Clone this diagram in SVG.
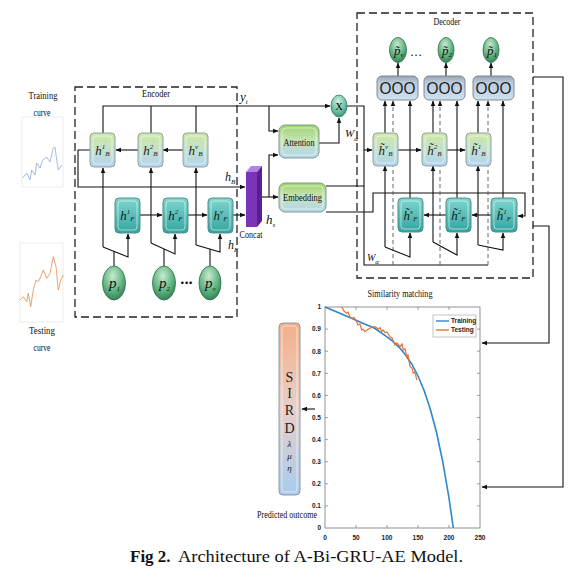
<svg xmlns="http://www.w3.org/2000/svg" width="582" height="581" viewBox="0 0 582 581">
<style>
.ln{stroke:#111;stroke-width:1.1;fill:none}
.dl{stroke:#555;stroke-width:0.9;fill:none;stroke-dasharray:4 3}
.bx{fill:none;stroke:#222;stroke-width:1.3;stroke-dasharray:8 4}
.lbl{font-family:"Liberation Serif",serif;font-size:11px;fill:#111;text-anchor:middle}
.m{font-family:"Liberation Serif",serif;font-style:italic;fill:#111}
.nl{font-family:"Liberation Serif",serif;font-style:italic;font-size:13px;fill:#1a1a1a;text-anchor:middle}
.nB{fill:url(#gB);stroke:#8fa3a8;stroke-width:1}
.nF{fill:url(#gF);stroke:#4f8f8c;stroke-width:1}
.inB{fill:none;stroke:#ffffff;stroke-opacity:0.55;stroke-width:1}
.ax{font-family:"Liberation Sans",sans-serif;font-size:6.5px;font-weight:bold;fill:#222}
.sub{font-size:7px}
</style>
<defs>
<marker id="ar" viewBox="0 0 10 10" refX="9" refY="5" markerWidth="6" markerHeight="6" orient="auto-start-reverse" markerUnits="userSpaceOnUse"><path d="M0,1 L10,5 L0,9 z" fill="#111"/></marker>
<linearGradient id="gB" x1="0" y1="0" x2="0" y2="1"><stop offset="0" stop-color="#cfe8a2"/><stop offset="0.5" stop-color="#c2e0cc"/><stop offset="1" stop-color="#b3d3ef"/></linearGradient>
<linearGradient id="gF" x1="0" y1="0" x2="0" y2="1"><stop offset="0" stop-color="#7fd6cf"/><stop offset="1" stop-color="#35a4a0"/></linearGradient>
<linearGradient id="gA" x1="0" y1="0" x2="0" y2="1"><stop offset="0" stop-color="#9fd46c"/><stop offset="0.45" stop-color="#c4e3b4"/><stop offset="1" stop-color="#b5d5f0"/></linearGradient>
<linearGradient id="gO" x1="0" y1="0" x2="0" y2="1"><stop offset="0" stop-color="#97a1ab"/><stop offset="0.25" stop-color="#b9cbdc"/><stop offset="1" stop-color="#cfe1f0"/></linearGradient>
<radialGradient id="gP" cx="0.45" cy="0.3" r="0.75"><stop offset="0" stop-color="#c8ead0"/><stop offset="0.6" stop-color="#5fb27f"/><stop offset="1" stop-color="#2b7a4f"/></radialGradient>
<radialGradient id="gX" cx="0.45" cy="0.3" r="0.75"><stop offset="0" stop-color="#d4f0e4"/><stop offset="0.6" stop-color="#6cc0a0"/><stop offset="1" stop-color="#2f8a6a"/></radialGradient>
<linearGradient id="gS" x1="0" y1="0" x2="0" y2="1"><stop offset="0" stop-color="#f2b08a"/><stop offset="0.5" stop-color="#e8cfc8"/><stop offset="1" stop-color="#a8ccee"/></linearGradient>
</defs>
<rect width="582" height="581" fill="#fff"/>

<!-- sample curves -->
<g id="training-curve">
<rect x="22" y="117" width="41" height="70" fill="#fff" stroke="#e6edf3"/>
<polyline points="22.7,178 26.7,173 30,180 31.7,170 35,175 36.7,163 40,168 42.7,160 46.7,157 50,162 53.3,148 55,147 56.7,160 58.3,170 61.7,165" fill="none" stroke="#86acd8" stroke-width="0.8"/>
<text class="lbl" x="43" y="99" textLength="29" lengthAdjust="spacingAndGlyphs">Training</text>
<text class="lbl" x="42" y="116" textLength="17" lengthAdjust="spacingAndGlyphs">curve</text>
</g>
<g id="testing-curve">
<rect x="20" y="243" width="43" height="79" fill="#fff" stroke="#f0ece8"/>
<polyline points="20,300 23.3,296.7 26.7,301.7 28.3,293.3 30.7,306.7 33.3,290 36,280 38.3,281.7 40.7,276.7 43.3,270 46.7,278.3 50,273.3 53.3,256.7 56,266.7 58.3,290 60.7,280 63.3,275" fill="none" stroke="#e38a4e" stroke-width="0.8"/>
<text class="lbl" x="42" y="334" textLength="26" lengthAdjust="spacingAndGlyphs">Testing</text>
<text class="lbl" x="42" y="351" textLength="17" lengthAdjust="spacingAndGlyphs">curve</text>
</g>

<!-- group boxes -->
<g id="encoder">
<rect class="bx" x="75" y="87" width="162" height="230"/>
<text class="lbl" x="156" y="97" textLength="28" lengthAdjust="spacingAndGlyphs">Encoder</text>
</g>
<g id="decoder">
<rect class="bx" x="357" y="13" width="176" height="265"/>
<text class="lbl" x="447" y="25" textLength="27" lengthAdjust="spacingAndGlyphs">Decoder</text>
</g>

<!-- connectors -->
<g id="connectors">
<path class="ln" d="M103,133 V106 H330" marker-end="url(#ar)"/>
<path class="ln" d="M151,133 V106 M196,133 V106"/>
<path class="ln" d="M183,150 H163" marker-end="url(#ar)"/>
<path class="ln" d="M138,150 H116" marker-end="url(#ar)"/>
<path class="ln" d="M90,150 H78 V187 H245" marker-end="url(#ar)"/>
<path class="ln" d="M140,215 H162" marker-end="url(#ar)"/>
<path class="ln" d="M188,215 H207" marker-end="url(#ar)"/>
<path class="ln" d="M233,215 H245" marker-end="url(#ar)"/>
<path class="ln" d="M103,247 V168" marker-end="url(#ar)"/>
<path class="ln" d="M103,247 L128,257 V234" marker-end="url(#ar)"/>
<path class="ln" d="M114,266 V251.4"/>
<path class="ln" d="M151,243 V168" marker-end="url(#ar)"/>
<path class="ln" d="M151,243 L175,254 V234" marker-end="url(#ar)"/>
<path class="ln" d="M164,266 V249"/>
<path class="ln" d="M196,245 V168" marker-end="url(#ar)"/>
<path class="ln" d="M196,245 L220,252 V234" marker-end="url(#ar)"/>
<path class="ln" d="M210,266 V249"/>
<path class="ln" d="M262,197 H278" marker-end="url(#ar)"/>
<path class="ln" d="M269,197 V155 H278" marker-end="url(#ar)"/>
<path class="ln" d="M269,106 V131 H278" marker-end="url(#ar)"/>
<path class="ln" d="M319,143 H339 V118" marker-end="url(#ar)"/>
<path class="ln" d="M347,106 H364 V265 H488"/>
<path class="ln" d="M326,186 H364"/>
<path class="ln" d="M364,150 H372" marker-end="url(#ar)"/>
<path class="ln" d="M326,212 H373 V193 H525 V216 H518" marker-end="url(#ar)"/>
<path class="dl" d="M393,265 V101" marker-end="url(#ar)"/>
<path class="dl" d="M440,265 V101" marker-end="url(#ar)"/>
<path class="dl" d="M488,265 V101" marker-end="url(#ar)"/>
<path class="ln" d="M385,133 V101" marker-end="url(#ar)"/>
<path class="ln" d="M410,198 V101" marker-end="url(#ar)"/>
<path class="ln" d="M433,133 V101" marker-end="url(#ar)"/>
<path class="ln" d="M457,198 V101" marker-end="url(#ar)"/>
<path class="ln" d="M478,133 V101" marker-end="url(#ar)"/>
<path class="ln" d="M503,198 V101" marker-end="url(#ar)"/>
<path class="ln" d="M398,150 H421" marker-end="url(#ar)"/>
<path class="ln" d="M447,150 H465" marker-end="url(#ar)"/>
<path class="ln" d="M491,215 H472" marker-end="url(#ar)"/>
<path class="ln" d="M446,215 H424" marker-end="url(#ar)"/>
<path class="ln" d="M385,247 V166" marker-end="url(#ar)"/>
<path class="ln" d="M385,247 L410,257 V233" marker-end="url(#ar)"/>
<path class="ln" d="M433,242 V166" marker-end="url(#ar)"/>
<path class="ln" d="M433,242 L457,255 V233" marker-end="url(#ar)"/>
<path class="ln" d="M478,245 V166" marker-end="url(#ar)"/>
<path class="ln" d="M478,245 L503,250 V233" marker-end="url(#ar)"/>
<path class="ln" d="M398,76 V63" marker-end="url(#ar)"/>
<path class="ln" d="M446,76 V63" marker-end="url(#ar)"/>
<path class="ln" d="M491,76 V63" marker-end="url(#ar)"/>
<path class="ln" d="M533,77 H563 V487 H482" marker-end="url(#ar)"/>
<path class="ln" d="M533,226 H549 V343 H482" marker-end="url(#ar)"/>
<path class="ln" d="M315,409 H302" marker-end="url(#ar)"/>
</g>

<!-- labels on connectors -->
<text class="m" x="240" y="101" font-size="13">y<tspan class="sub" dy="3">t</tspan></text>
<text class="m" x="225" y="181" font-size="12">h<tspan class="sub" dy="3">B</tspan></text>
<text class="m" x="228" y="249" font-size="12">h<tspan class="sub" dy="3">F</tspan></text>
<text class="m" x="266" y="224" font-size="13">h<tspan class="sub" dy="3">s</tspan></text>
<text class="m" x="345" y="137" font-size="11">W<tspan class="sub" dy="4">α</tspan></text>
<text class="m" x="367" y="261" font-size="10">W<tspan class="sub" dy="3">α</tspan></text>

<!-- encoder nodes -->
<g id="enc-hB1"><rect class="nB" x="90" y="133" width="25" height="34" rx="4"/><rect class="inB" x="93" y="136" width="19" height="28" rx="3"/><text class="nl" x="102.5" y="155">h<tspan class="sub" dy="-6">1</tspan><tspan class="sub" dy="7">B</tspan></text></g>
<g id="enc-hB2"><rect class="nB" x="138" y="133" width="25" height="34" rx="4"/><rect class="inB" x="141" y="136" width="19" height="28" rx="3"/><text class="nl" x="150.5" y="155">h<tspan class="sub" dy="-6">2</tspan><tspan class="sub" dy="7">B</tspan></text></g>
<g id="enc-hBv"><rect class="nB" x="183" y="133" width="25" height="34" rx="4"/><rect class="inB" x="186" y="136" width="19" height="28" rx="3"/><text class="nl" x="195.5" y="155">h<tspan class="sub" dy="-6">v</tspan><tspan class="sub" dy="7">B</tspan></text></g>
<g id="enc-hF1"><rect class="nF" x="115" y="198" width="25" height="35" rx="4"/><rect class="inB" x="118" y="201" width="19" height="29" rx="3"/><text class="nl" x="127.5" y="220">h<tspan class="sub" dy="-6">1</tspan><tspan class="sub" dy="7">F</tspan></text></g>
<g id="enc-hF2"><rect class="nF" x="163" y="198" width="25" height="35" rx="4"/><rect class="inB" x="166" y="201" width="19" height="29" rx="3"/><text class="nl" x="175.5" y="220">h<tspan class="sub" dy="-6">2</tspan><tspan class="sub" dy="7">F</tspan></text></g>
<g id="enc-hFv"><rect class="nF" x="208" y="198" width="25" height="35" rx="4"/><rect class="inB" x="211" y="201" width="19" height="29" rx="3"/><text class="nl" x="220.5" y="220">h<tspan class="sub" dy="-6">v</tspan><tspan class="sub" dy="7">F</tspan></text></g>

<g id="enc-p1"><ellipse cx="114" cy="283" rx="11.5" ry="17" fill="url(#gP)" stroke="#2b6e48" stroke-width="0.8"/><text class="m" x="109" y="288" font-size="15">p<tspan class="sub" dy="3">1</tspan></text></g>
<g id="enc-p2"><ellipse cx="164" cy="283" rx="11.5" ry="17" fill="url(#gP)" stroke="#2b6e48" stroke-width="0.8"/><text class="m" x="159" y="288" font-size="15">p<tspan class="sub" dy="3">2</tspan></text></g>
<g id="enc-dots"><text x="187" y="286" font-family="Liberation Sans,sans-serif" font-size="9" text-anchor="middle" letter-spacing="1">•••</text></g>
<g id="enc-pv"><ellipse cx="210" cy="283" rx="11" ry="17" fill="url(#gP)" stroke="#2b6e48" stroke-width="0.8"/><text class="m" x="205" y="288" font-size="15">p<tspan class="sub" dy="3">v</tspan></text></g>

<g id="concat">
<polygon points="246,172 251,166 262,166 257,172" fill="#b482e4"/>
<polygon points="257,172 262,166 262,221 257,227" fill="#5b1f8e"/>
<rect x="246" y="172" width="11" height="55" fill="#7b34b8"/>
<text class="lbl" x="251" y="238" textLength="23" lengthAdjust="spacingAndGlyphs">Concat</text>
</g>

<g id="attention"><rect x="279" y="125" width="40" height="33" rx="6" fill="url(#gA)" stroke="#7f9a86"/><rect class="inB" x="282" y="128" width="34" height="27" rx="4"/><text class="lbl" x="299" y="146" textLength="31" lengthAdjust="spacingAndGlyphs">Attention</text></g>
<g id="embedding"><rect x="279" y="183" width="47" height="29" rx="6" fill="url(#gA)" stroke="#7f9a86"/><rect class="inB" x="282" y="186" width="41" height="23" rx="4"/><text class="lbl" x="302.5" y="201" textLength="39" lengthAdjust="spacingAndGlyphs">Embedding</text></g>
<g id="multiply"><ellipse cx="339" cy="106" rx="8" ry="11" fill="url(#gX)" stroke="#2f7a5e" stroke-width="0.8"/><text x="339" y="110" font-family="Liberation Serif,serif" font-size="10" text-anchor="middle">X</text></g>

<!-- decoder nodes -->
<g id="dec-hBv"><rect class="nB" x="373" y="133" width="25" height="33" rx="4"/><rect class="inB" x="376" y="136" width="19" height="27" rx="3"/><text class="nl" x="385.5" y="155">h̃<tspan class="sub" dy="-6">v</tspan><tspan class="sub" dy="7">B</tspan></text></g>
<g id="dec-hB2"><rect class="nB" x="422" y="133" width="25" height="33" rx="4"/><rect class="inB" x="425" y="136" width="19" height="27" rx="3"/><text class="nl" x="434.5" y="155">h̃<tspan class="sub" dy="-6">2</tspan><tspan class="sub" dy="7">B</tspan></text></g>
<g id="dec-hB1"><rect class="nB" x="466" y="133" width="25" height="33" rx="4"/><rect class="inB" x="469" y="136" width="19" height="27" rx="3"/><text class="nl" x="478.5" y="155">h̃<tspan class="sub" dy="-6">1</tspan><tspan class="sub" dy="7">B</tspan></text></g>
<g id="dec-hFv"><rect class="nF" x="398" y="198" width="25" height="34" rx="4"/><rect class="inB" x="401" y="201" width="19" height="28" rx="3"/><text class="nl" x="410.5" y="220">h̃<tspan class="sub" dy="-6">v</tspan><tspan class="sub" dy="7">F</tspan></text></g>
<g id="dec-hF2"><rect class="nF" x="446" y="198" width="25" height="34" rx="4"/><rect class="inB" x="449" y="201" width="19" height="28" rx="3"/><text class="nl" x="458.5" y="220">h̃<tspan class="sub" dy="-6">2</tspan><tspan class="sub" dy="7">F</tspan></text></g>
<g id="dec-hF1"><rect class="nF" x="491" y="198" width="26" height="34" rx="4"/><rect class="inB" x="494" y="201" width="20" height="28" rx="3"/><text class="nl" x="504" y="220">h̃<tspan class="sub" dy="-6">1</tspan><tspan class="sub" dy="7">F</tspan></text></g>

<g id="dec-out1"><rect x="377" y="76" width="41" height="24" rx="5" fill="url(#gO)" stroke="#7d8a96"/><text x="397.5" y="94" font-family="Liberation Sans,sans-serif" font-size="16" text-anchor="middle" fill="#222" textLength="36" lengthAdjust="spacingAndGlyphs">OOO</text></g>
<g id="dec-out2"><rect x="424" y="76" width="41" height="24" rx="5" fill="url(#gO)" stroke="#7d8a96"/><text x="444.5" y="94" font-family="Liberation Sans,sans-serif" font-size="16" text-anchor="middle" fill="#222" textLength="36" lengthAdjust="spacingAndGlyphs">OOO</text></g>
<g id="dec-out3"><rect x="473" y="76" width="41" height="24" rx="5" fill="url(#gO)" stroke="#7d8a96"/><text x="493.5" y="94" font-family="Liberation Sans,sans-serif" font-size="16" text-anchor="middle" fill="#222" textLength="36" lengthAdjust="spacingAndGlyphs">OOO</text></g>

<g id="dec-pv"><ellipse cx="398" cy="50" rx="8.5" ry="12.5" fill="url(#gP)" stroke="#2b6e48" stroke-width="0.8"/><text class="m" x="394" y="55" font-size="13">p̃<tspan class="sub" dy="2">v</tspan></text></g>
<g id="dec-dots"><text x="416" y="56" font-family="Liberation Serif,serif" font-size="12" text-anchor="middle">…</text></g>
<g id="dec-p2"><ellipse cx="446" cy="50" rx="8" ry="12.5" fill="url(#gP)" stroke="#2b6e48" stroke-width="0.8"/><text class="m" x="442" y="55" font-size="13">p̃<tspan class="sub" dy="2">2</tspan></text></g>
<g id="dec-p1"><ellipse cx="491" cy="50" rx="8" ry="12.5" fill="url(#gP)" stroke="#2b6e48" stroke-width="0.8"/><text class="m" x="487" y="55" font-size="13">p̃<tspan class="sub" dy="2">1</tspan></text></g>

<!-- similarity chart -->
<g id="similarity-chart">
<text class="lbl" x="400" y="297" textLength="65" lengthAdjust="spacingAndGlyphs">Similarity matching</text>
<rect x="325" y="307" width="155" height="221" fill="#fff" stroke="#777" stroke-width="0.8"/>
<path d="M325,505.9h3M325,483.8h3M325,461.7h3M325,439.6h3M325,417.5h3M325,395.4h3M325,373.3h3M325,351.2h3M325,329.1h3M480,505.9h-3M480,483.8h-3M480,461.7h-3M480,439.6h-3M480,417.5h-3M480,395.4h-3M480,373.3h-3M480,351.2h-3M480,329.1h-3M356,528v-3M387,528v-3M418,528v-3M449,528v-3M356,307v3M387,307v3M418,307v3M449,307v3" stroke="#777" stroke-width="0.7"/>
<g class="ax" text-anchor="end">
<text x="321" y="530">0</text><text x="321" y="508">0.1</text><text x="321" y="486">0.2</text><text x="321" y="464">0.3</text><text x="321" y="442">0.4</text><text x="321" y="420">0.5</text><text x="321" y="398">0.6</text><text x="321" y="376">0.7</text><text x="321" y="354">0.8</text><text x="321" y="331">0.9</text><text x="321" y="309">1</text>
</g>
<g class="ax" text-anchor="middle">
<text x="325" y="540">0</text><text x="356" y="540">50</text><text x="387" y="540">100</text><text x="418" y="540">150</text><text x="449" y="540">200</text><text x="480" y="540">250</text>
</g>
<polyline points="325,307 337.4,312.3 349.8,317.6 362.2,323.1 374.6,328.3 387,336.8 393.2,341.7 399.4,347.6 405.6,355 411.8,364.2 418,376 424.2,390.8 430.4,409.5 436.6,432.8 442.8,462 449,498 453.3,528" fill="none" stroke="#2f86c8" stroke-width="1.6"/>
<polyline points="341.7,306.7 344,311 346.7,313.3 348,312 350,317 351.7,318.3 354,317.5 356.7,321.7 358,325 360,324 361.7,330 363,329 365,331.7 367,330 370,328.3 372,327 375,326.7 377,328 378.3,329.3 380,327.5 381.7,331.7 383,330 385,332.7 387,332 390,336.7 392,338 395,345 397,343 400,346.7 402,344 403.3,350 405,349 406.7,356.7 408,355 410,366.7 412,368 413.3,373.3 415,372 416.7,380" fill="none" stroke="#e0743a" stroke-width="1.2"/>
<rect x="433" y="315" width="43" height="22" fill="#fff" stroke="#999" stroke-width="0.6"/>
<path d="M436,321 H449" stroke="#2f86c8" stroke-width="1.4"/>
<path d="M436,330 H449" stroke="#e0743a" stroke-width="1.4"/>
<text class="ax" x="451" y="323" font-size="5.5">Training</text>
<text class="ax" x="451" y="332" font-size="5.5">Testing</text>
</g>

<!-- predicted outcome -->
<g id="predicted-outcome">
<rect x="279" y="323" width="21" height="172" rx="4" fill="url(#gS)" stroke="#8c9aa6"/>
<rect class="inB" x="282" y="326" width="15" height="166" rx="3"/>
<g font-family="Liberation Serif,serif" fill="#222" text-anchor="middle">
<text x="289.5" y="382" font-size="14">S</text>
<text x="289.5" y="398" font-size="14">I</text>
<text x="289.5" y="415" font-size="14">R</text>
<text x="289.5" y="433" font-size="14">D</text>
<text x="289.5" y="447" font-size="9" font-style="italic">λ</text>
<text x="289.5" y="459" font-size="9" font-style="italic">μ</text>
<text x="289.5" y="471" font-size="9" font-style="italic">η</text>
</g>
<text class="lbl" x="287" y="518" textLength="60" lengthAdjust="spacingAndGlyphs">Predicted outcome</text>
</g>

<!-- caption -->
<text x="130" y="562" font-family="Liberation Serif,serif" font-size="17" font-weight="bold" fill="#111">Fig 2.</text>
<text x="178" y="562" font-family="Liberation Serif,serif" font-size="17" fill="#111" textLength="285" lengthAdjust="spacingAndGlyphs">Architecture of A-Bi-GRU-AE Model.</text>
</svg>
